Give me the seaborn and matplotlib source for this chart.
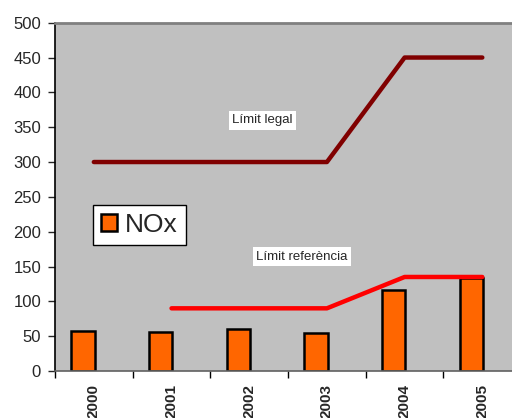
import numpy as np
import pandas as pd
import matplotlib
matplotlib.use("Agg")
import matplotlib.pyplot as plt
import matplotlib.patches as mpatches
import seaborn as sns

years = ["2000", "2001", "2002", "2003", "2004", "2005"]
nox = [58, 56, 61, 55, 117, 134]
limit_legal = [300, 300, 300, 300, 450, 450]
limit_ref = [np.nan, 90, 90, 90, 135, 135]

sns.set_style("white")
plt.rcParams['font.family'] = ['Liberation Sans', 'DejaVu Sans']

fig = plt.figure(figsize=(5.12, 4.18), dpi=100)
ax = fig.add_axes([0.1074, 0.1124, 0.9105, 0.8333])
ax.set_facecolor("#C0C0C0")

df = pd.DataFrame({"year": years, "nox": nox})
sns.barplot(data=df, x="year", y="nox", color="#FF6600", width=0.3,
            edgecolor="black", linewidth=1.8, saturation=1, ax=ax, zorder=2)
# bars sit left of the category centre, as in the original spreadsheet chart
for p in ax.patches:
    p.set_x(p.get_x() - 0.14)

pos = np.arange(len(years))
sns.lineplot(x=pos, y=limit_legal, color="#800000", linewidth=3.2, ax=ax,
             zorder=3, solid_capstyle="round")
sns.lineplot(x=pos, y=limit_ref, color="#FF0000", linewidth=3.2, ax=ax,
             zorder=3, solid_capstyle="round")

ax.text(2.17, 360, "Límit legal", fontsize=9.5, ha="center", va="center",
        bbox=dict(facecolor="white", edgecolor="none", pad=2.5), zorder=4)
ax.text(2.68, 164, "Límit referència", fontsize=9.5, ha="center", va="center",
        bbox=dict(facecolor="white", edgecolor="none", pad=2.5), zorder=4)

ax.set_xlim(-0.5, 5.5)
ax.set_ylim(0, 500)
ax.set_yticks(range(0, 501, 50))
ax.tick_params(axis="y", direction="out", length=5, width=1, labelsize=12,
               left=True, pad=5)

ax.set_xticks(np.arange(-0.5, 6, 1.0))
ax.set_xticklabels([])
ax.tick_params(axis="x", which="major", direction="out", length=5, width=1,
               bottom=True, colors="black")
ax.set_xticks(pos, minor=True)
ax.set_xticklabels(years, minor=True, rotation=90, fontsize=11,
                   fontweight="bold", va="top")
ax.tick_params(axis="x", which="minor", length=0, pad=9)
ax.set_xlabel("")
ax.set_ylabel("")

ax.spines["left"].set_color("black")
ax.spines["left"].set_linewidth(1.2)
ax.spines["bottom"].set_color("#606060")
ax.spines["bottom"].set_linewidth(1.2)
ax.spines["top"].set_color("#808080")
ax.spines["top"].set_linewidth(2)
ax.spines["right"].set_visible(False)

handle = mpatches.Patch(facecolor="#FF6600", edgecolor="black", linewidth=1.8)
ax.legend([handle], ["NOx"], loc="upper left", bbox_to_anchor=(0.0815, 0.4766),
          borderaxespad=0, fontsize=19, fancybox=False, framealpha=1,
          edgecolor="black", handlelength=0.62, handleheight=0.62,
          handletextpad=0.3, borderpad=0.3)
ax.get_legend().get_frame().set_linewidth(1)

fig.savefig("out.png", dpi=100)
